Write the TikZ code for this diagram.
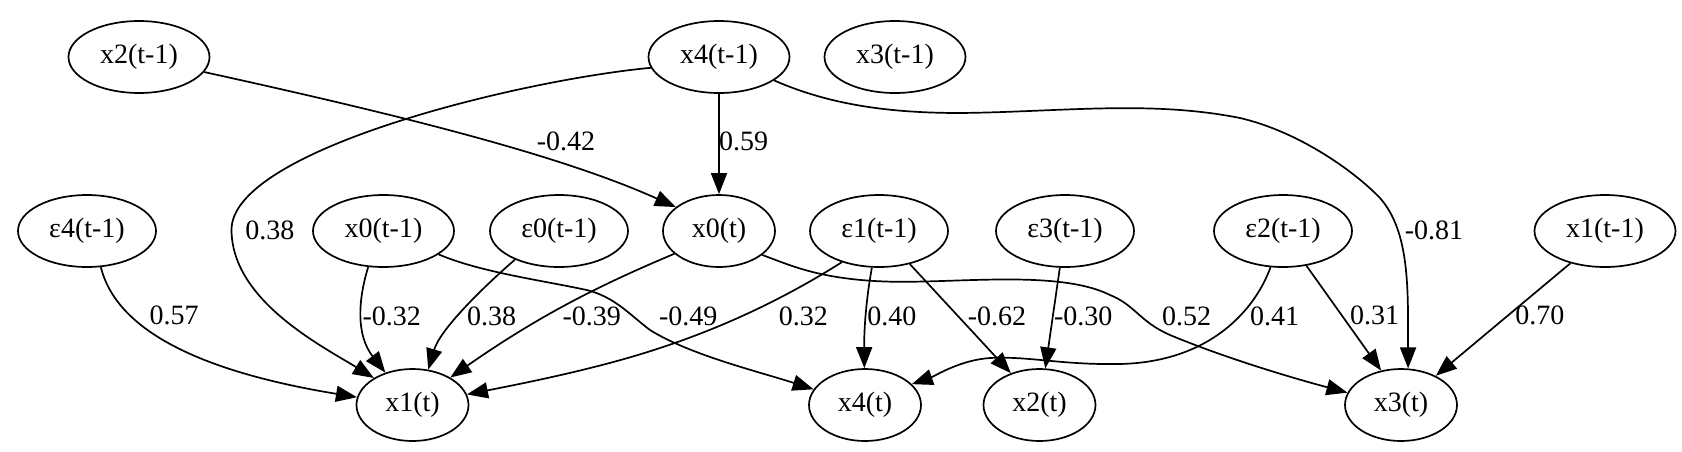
\documentclass[tikz,border=0pt]{standalone}
\usepackage{fontspec}
\setmainfont{Liberation Serif}
\usetikzlibrary{arrows.meta,shapes.geometric}
\tikzset{
  gnode/.style={draw, ellipse, line width=0.85pt, inner sep=0pt, minimum height=36pt, font=\fontsize{14pt}{16pt}\selectfont},
  nL/.style={gnode, minimum width=70.5pt},
  nE/.style={gnode, minimum width=69pt},
  nS/.style={gnode, minimum width=56pt},
  lab/.style={font=\fontsize{14pt}{16pt}\selectfont, inner sep=0pt},
  edge/.style={line width=0.85pt, -{Triangle[length=10.5pt,width=8pt]}},
}
\begin{document}
\begin{tikzpicture}[x=0.5pt, y=-0.5pt]
\path[fill=white, use as bounding box] (0,0) rectangle (1682,451);
% top row
\node[nL] (x2p) at (139,57) {x2(t-1)};
\node[nL] (x4p) at (719,57) {x4(t-1)};
\node[nL] (x3p) at (895,57) {x3(t-1)};
% middle row
\node[nE] (e4) at (87,231) {ε4(t-1)};
\node[nL] (x0p) at (383.5,231) {x0(t-1)};
\node[nE] (e0) at (559,231) {ε0(t-1)};
\node[nS] (x0t) at (719,231) {x0(t)};
\node[nE] (e1) at (879,231) {ε1(t-1)};
\node[nE] (e3) at (1065,231) {ε3(t-1)};
\node[nE] (e2) at (1283,231) {ε2(t-1)};
\node[nL] (x1p) at (1605,231) {x1(t-1)};
% bottom row
\node[nS] (x1t) at (412.5,405) {x1(t)};
\node[nS] (x4t) at (865,405) {x4(t)};
\node[nS] (x2t) at (1039.5,405) {x2(t)};
\node[nS] (x3t) at (1401,405) {x3(t)};

% edges
\draw[edge] (x2p.-13.4) .. controls (400,115) and (560,155) .. (x0t.151.8);
\draw[edge] (x4p.-90) -- (x0t.90);
\draw[edge] (x4p.189.9) .. controls (520,80) and (231,150) .. (231.5,230)
  .. controls (232,300) and (320,345) .. (x1t.145.6);
\draw[edge] (x4p.-23.3) .. controls (830,105) and (890,113) .. (960,113)
  .. controls (1060,112) and (1150,100) .. (1240,118)
  .. controls (1300,132) and (1355,172) .. (1380,198)
  .. controls (1410,232) and (1408,290) .. (x3t.79);
\draw[edge] (e4.-69.1) .. controls (120,345) and (240,378) .. (x1t.172.7);
\draw[edge] (x0p.-113) .. controls (358,300) and (356,335) .. (x1t.130.4);
\draw[edge] (e0.213.4) .. controls (480,290) and (440,330) .. (x1t.66.9);
\draw[edge] (x0t.207.7) .. controls (600,285) and (540,315) .. (x1t.36.3);
\draw[edge] (x0p.-23.7) .. controls (480,272) and (540,280) .. (586.7,290)
  .. controls (615,297) and (630,315) .. (650,330)
  .. controls (690,355) and (760,372) .. (x4t.163.8);
\draw[edge] (e1.220.2) .. controls (790,295) and (730,325) .. (660,348)
  .. controls (600,368) and (530,382) .. (x1t.11.5);
\draw[edge] (e1.-101.7) .. controls (866,300) and (864,330) .. (x4t.91);
\draw[edge] (e1.-47.7) -- (x2t.132.5);
\draw[edge] (e3.-98.7) -- (x2t.81);
\draw[edge] (x0t.-29.3) .. controls (790,265) and (820,280) .. (891.8,281.7)
  .. controls (960,283) and (1060,270) .. (1110,295)
  .. controls (1135,305) and (1140,322) .. (1170,335)
  .. controls (1230,360) and (1300,380) .. (x3t.167);
\draw[edge] (e2.-109.7) .. controls (1255,310) and (1210,362) .. (1120,364)
  .. controls (1060,365) and (1030,356) .. (990,358)
  .. controls (960,360) and (935,376) .. (x4t.24.4);
\draw[edge] (e2.-56.4) -- (x3t.120.6);
\draw[edge] (x1p.-137.6) -- (x3t.40.6);

% edge labels
\node[lab] (l1) at (566,141.7) {-0.42};
\node[lab] (l2) at (743.7,141.7) {0.59};
\node[lab] (l3) at (269.8,230) {0.38};
\node[lab] (l4) at (1434,230) {-0.81};
\node[lab] (l5) at (174,315) {0.57};
\node[lab] (l6) at (391.7,316.7) {-0.32};
\node[lab] (l7) at (491.7,316.7) {0.38};
\node[lab] (l8) at (591.7,316.7) {-0.39};
\node[lab] (l9) at (688.3,316.7) {-0.49};
\node[lab] (l10) at (803.3,316.7) {0.32};
\node[lab] (l11) at (891.8,316.7) {0.40};
\node[lab] (l12) at (997,316.7) {-0.62};
\node[lab] (l13) at (1083.2,316.7) {-0.30};
\node[lab] (l14) at (1186.5,316.7) {0.52};
\node[lab] (l15) at (1274.6,316.7) {0.41};
\node[lab] (l16) at (1374.7,315) {0.31};
\node[lab] (l17) at (1539.9,315) {0.70};
\end{tikzpicture}
\end{document}
